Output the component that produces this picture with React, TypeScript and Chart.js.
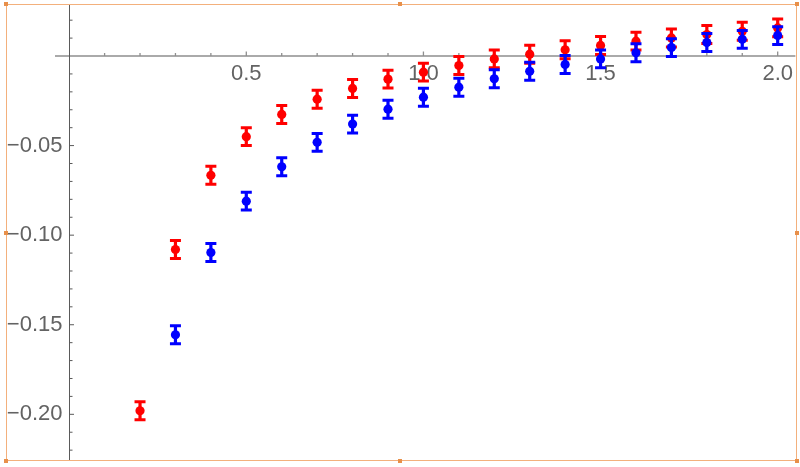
import React, { useEffect, useRef } from "react";
import { Chart, registerables } from "chart.js";

Chart.register(...registerables);

// ---- data ----
const redX = [0.2, 0.3, 0.4, 0.5, 0.6, 0.7, 0.8, 0.9, 1.0, 1.1, 1.2, 1.3, 1.4, 1.5, 1.6, 1.7, 1.8, 1.9, 2.0];
const redY = [-0.198, -0.108, -0.0666, -0.045, -0.0326, -0.0241, -0.0181, -0.0129, -0.009, -0.0053, -0.0016, 0.001, 0.0035, 0.0059, 0.0083, 0.0101, 0.012, 0.0138, 0.0157];
const redErr = [0.005, 0.005, 0.005, 0.005, 0.005, 0.005, 0.005, 0.005, 0.005, 0.005, 0.005, 0.005, 0.005, 0.005, 0.005, 0.005, 0.005, 0.005, 0.005];

const blueX = [0.3, 0.4, 0.5, 0.6, 0.7, 0.8, 0.9, 1.0, 1.1, 1.2, 1.3, 1.4, 1.5, 1.6, 1.7, 1.8, 1.9, 2.0];
const blueY = [-0.1556, -0.1097, -0.081, -0.0618, -0.0482, -0.038, -0.0297, -0.023, -0.0174, -0.0127, -0.0085, -0.0047, -0.0016, 0.0018, 0.0047, 0.0075, 0.0093, 0.0114];
const blueErr = [0.005, 0.005, 0.005, 0.005, 0.005, 0.005, 0.005, 0.005, 0.005, 0.005, 0.005, 0.005, 0.005, 0.005, 0.005, 0.005, 0.005, 0.005];

const xMajorTicks = [0.5, 1.0, 1.5, 2.0];
const xTickLabels = ["0.5", "1.0", "1.5", "2.0"];
const xMinorTicks = [0.1, 0.2, 0.3, 0.4, 0.6, 0.7, 0.8, 0.9, 1.1, 1.2, 1.3, 1.4, 1.6, 1.7, 1.8, 1.9];

const yMajorTicks = [-0.05, -0.1, -0.15, -0.2];
const yTickLabels = ["\u22120.05", "\u22120.10", "\u22120.15", "\u22120.20"];
const yMinorTicks = [0.02, 0.01, -0.01, -0.02, -0.03, -0.04, -0.06, -0.07, -0.08, -0.09, -0.11, -0.12, -0.13, -0.14, -0.16, -0.17, -0.18, -0.19, -0.21, -0.22];

const X_MIN = -0.04;
const X_MAX = 2.05;
const Y_MIN = -0.2255;
const Y_MAX = 0.0287;

const X_AXIS_COLOR = "#8f8f8f";
const Y_AXIS_COLOR = "#5a5a5a";
const LABEL_COLOR = "#636363";
const FONT = '22px "Liberation Sans", Arial, sans-serif';

const axesPlugin = {
  id: "mmaAxes",
  beforeDatasetsDraw(chart: any) {
    const ctx = chart.ctx;
    const xs = chart.scales.x;
    const ys = chart.scales.y;
    const area = chart.chartArea;
    const x0 = Math.round(xs.getPixelForValue(0)) + 0.5;
    const y0 = ys.getPixelForValue(0);
    ctx.save();
    // x axis
    ctx.strokeStyle = X_AXIS_COLOR;
    ctx.lineWidth = 1.3;
    ctx.beginPath();
    ctx.moveTo(area.left, y0);
    ctx.lineTo(area.right, y0);
    for (const t of xMajorTicks) {
      const px = xs.getPixelForValue(t);
      ctx.moveTo(px, y0);
      ctx.lineTo(px, y0 - 4.5);
    }
    for (const t of xMinorTicks) {
      const px = xs.getPixelForValue(t);
      ctx.moveTo(px, y0);
      ctx.lineTo(px, y0 - 3);
    }
    ctx.stroke();
    // y axis
    ctx.strokeStyle = Y_AXIS_COLOR;
    ctx.lineWidth = 1;
    ctx.beginPath();
    ctx.moveTo(x0, area.top);
    ctx.lineTo(x0, area.bottom);
    for (const t of yMajorTicks) {
      const py = ys.getPixelForValue(t);
      ctx.moveTo(x0, py);
      ctx.lineTo(x0 + 4.5, py);
    }
    for (const t of yMinorTicks) {
      const py = ys.getPixelForValue(t);
      ctx.moveTo(x0, py);
      ctx.lineTo(x0 + 3, py);
    }
    ctx.stroke();
    // labels
    ctx.fillStyle = LABEL_COLOR;
    ctx.font = FONT;
    ctx.textAlign = "center";
    ctx.textBaseline = "middle";
    xMajorTicks.forEach((t, i) => {
      ctx.fillText(xTickLabels[i], xs.getPixelForValue(t), y0 + 18);
    });
    ctx.textAlign = "right";
    yMajorTicks.forEach((t, i) => {
      ctx.fillText(yTickLabels[i], x0 - 7, ys.getPixelForValue(t));
    });
    ctx.restore();
  },
};

const errorBarPlugin = {
  id: "errorBars",
  afterDatasetDraw(chart: any, args: any) {
    const ds = chart.data.datasets[args.index];
    const errs: number[] = ds.errors;
    if (!errs) return;
    const ctx = chart.ctx;
    const xs = chart.scales.x;
    const ys = chart.scales.y;
    ctx.save();
    ctx.strokeStyle = ds.backgroundColor;
    ds.data.forEach((p: any, i: number) => {
      const px = xs.getPixelForValue(p.x);
      const top = ys.getPixelForValue(p.y + errs[i]);
      const bot = ys.getPixelForValue(p.y - errs[i]);
      ctx.lineWidth = 3.2;
      ctx.beginPath();
      ctx.moveTo(px, top);
      ctx.lineTo(px, bot);
      ctx.stroke();
      ctx.lineWidth = 3;
      ctx.beginPath();
      ctx.moveTo(px - 5.5, top);
      ctx.lineTo(px + 5.5, top);
      ctx.moveTo(px - 5.5, bot);
      ctx.lineTo(px + 5.5, bot);
      ctx.stroke();
    });
    ctx.restore();
  },
};

function ChartView() {
  const ref = useRef<HTMLCanvasElement | null>(null);
  useEffect(() => {
    if (!ref.current) return;
    const chart = new Chart(ref.current, {
      type: "scatter",
      data: {
        datasets: [
          {
            label: "red",
            data: redX.map((x, i) => ({ x, y: redY[i] })),
            errors: redErr,
            backgroundColor: "#ff0000",
            borderWidth: 0,
            pointRadius: 4.6,
            order: 2,
          } as any,
          {
            label: "blue",
            data: blueX.map((x, i) => ({ x, y: blueY[i] })),
            errors: blueErr,
            backgroundColor: "#0000ff",
            borderWidth: 0,
            pointRadius: 4.6,
            order: 1,
          } as any,
        ],
      },
      options: {
        animation: false,
        responsive: false,
        devicePixelRatio: 1,
        layout: { padding: { left: 55, right: 3, top: 4, bottom: 7 } },
        plugins: { legend: { display: false }, tooltip: { enabled: false } },
        scales: {
          x: { type: "linear", min: X_MIN, max: X_MAX, display: false },
          y: { type: "linear", min: Y_MIN, max: Y_MAX, display: false },
        },
      },
      plugins: [axesPlugin, errorBarPlugin],
    });
    return () => chart.destroy();
  }, []);
  return <canvas ref={ref} width={800} height={467} style={{ position: "absolute", left: 0, top: 0 }} />;
}

const HANDLE = "#e8904a";
const handles = [
  [6, 4], [400, 4], [797, 4],
  [6, 233], [797, 233],
  [6, 461], [400, 461], [797, 461],
];

export default function App() {
  useEffect(() => {
    document.body.style.margin = "0";
  }, []);
  return (
    <div style={{ position: "absolute", left: 0, top: 0, width: 800, height: 467, background: "#fff", overflow: "hidden" }}>
      <ChartView />
      <div
        style={{
          position: "absolute",
          left: 6,
          top: 4,
          width: 791,
          height: 457,
          border: "1px solid #f3b07c",
          boxSizing: "border-box",
          pointerEvents: "none",
        }}
      />
      {handles.map(([x, y], i) => (
        <div
          key={i}
          style={{ position: "absolute", left: x - 2, top: y - 2, width: 4, height: 4, background: HANDLE }}
        />
      ))}
    </div>
  );
}
